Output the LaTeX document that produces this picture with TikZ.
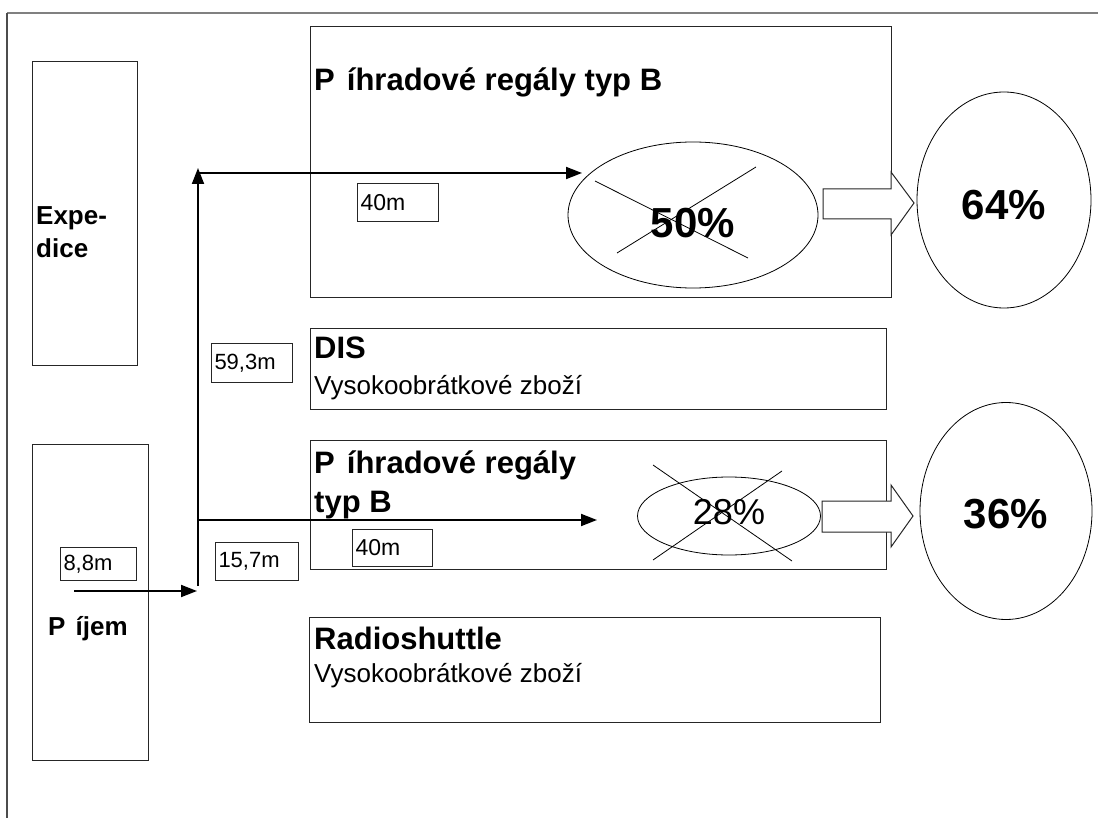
\documentclass[tikz,border=0pt]{standalone}
\usepackage{fontspec}
\setmainfont{Liberation Sans}
\usetikzlibrary{arrows.meta,shapes.geometric}
\begin{document}
\begin{tikzpicture}[x=1pt,y=-1pt,
  box/.style={draw=black!85,line width=1.2pt,rectangle,inner sep=0pt,anchor=north west},
  lbl/.style={draw=black!85,line width=1pt,rectangle,anchor=north west,inner ysep=0pt,inner xsep=3pt,align=left,font=\fontsize{22}{26}\selectfont},
  ell/.style={draw=black,ellipse,line width=0.8pt,inner sep=0pt},
  conn/.style={line width=1.8pt,-{Triangle[length=16pt,width=12pt]}},
  cross/.style={line width=0.8pt},
  big/.style={font=\fontsize{31}{38}\selectfont\bfseries,anchor=base west,inner sep=0pt},
  mid/.style={font=\fontsize{26}{33}\selectfont\bfseries,anchor=base west,inner sep=0pt},
  sub/.style={font=\fontsize{26}{33}\selectfont,anchor=base west,inner sep=0pt},
  pct/.style={font=\fontsize{42}{50}\selectfont\bfseries,inner sep=0pt},
  blk/.style={draw=black!85,line width=1pt,fill=white}]
\useasboundingbox (0,0) rectangle (1098,818);
% outer frame
\draw[gray,line width=1.5pt] (7,13) -- (1098,13);
\draw[black!70,line width=1.2pt] (7,13) -- (7,818);

% left boxes
\node[box,minimum width=105pt,minimum height=304pt] (exp) at (32,61) {};
\node[mid] (expt1) at (36,225) {Expe-};
\node[mid] (expt2) at (36,258) {dice};
\node[box,minimum width=116pt,minimum height=316pt] (pri) at (32,444) {};
\node[mid] (prit) at (48,635) {P\hspace{0.389em}íjem};

% top rack box
\node[box,minimum width=581pt,minimum height=271pt] (top) at (310,26) {};
\node[big] (topt) at (314,91) {P\hspace{0.389em}íhradové regály typ B};
\node[lbl,text width=75pt,minimum height=38pt,font=\fontsize{23}{27}\selectfont] (d40a) at (357,183) {40m};
\node[ell,minimum width=250pt,minimum height=146pt] (e1) at (693,215) {};
\draw[cross] (595,181) -- (748,258);
\draw[cross] (617,253) -- (756,167);
\node[pct] (p50) at (693,223) {50\%};
\draw[blk] (823,189) -- (891,189) -- (891,172) -- (914,203) -- (891,235) -- (891,219) -- (823,219) -- cycle;
\node[ell,minimum width=174pt,minimum height=216pt] (c64) at (1004,200) {};
\node[pct] (p64) at (1004,205) {64\%};

% DIS box
\node[box,minimum width=576pt,minimum height=81pt] (dis) at (310,328) {};
\node[big] (dist) at (314,359) {DIS};
\node[sub] (diss) at (314,395) {Vysokoobrátkové zboží};
\node[lbl,text width=75pt,minimum height=39pt] (d593) at (211,343) {59,3m};

% second rack box
\node[box,minimum width=576pt,minimum height=129pt] (mid) at (310,440) {};
\node[big] (midt1) at (314,473) {P\hspace{0.389em}íhradové regály};
\node[big] (midt2) at (314,512) {typ B};
\node[lbl,text width=74pt,minimum height=37pt,font=\fontsize{23}{27}\selectfont] (d40b) at (352,529) {40m};
\node[ell,minimum width=183pt,minimum height=78pt] (e2) at (729,516) {};
\draw[cross] (653,465) -- (792,561);
\draw[cross] (653,560) -- (782,471);
\node[font=\fontsize{36}{42}\selectfont,inner sep=0pt] (p28) at (729,512) {28\%};
\draw[blk] (822,501) -- (891,501) -- (891,485) -- (913,516) -- (891,547) -- (891,532) -- (822,532) -- cycle;
\node[ell,minimum width=172pt,minimum height=217pt] (c36) at (1006,511) {};
\node[pct] (p36) at (1006,514) {36\%};
\node[lbl,text width=77pt,minimum height=38pt] (d157) at (215,542) {15,7m};

% radioshuttle
\node[box,minimum width=571pt,minimum height=105pt] (rad) at (309,617) {};
\node[big] (radt) at (314,649) {Radioshuttle};
\node[sub] (rads) at (314,682) {Vysokoobrátkové zboží};

% 8,8m
\node[lbl,text width=70pt,minimum height=33pt] (d88) at (60,547) {8,8m};

% connectors
\coordinate (vb) at (198,586);
\coordinate (vt) at (198,168);
\coordinate (h1s) at (198,173);
\coordinate (h1e) at (582,173);
\coordinate (h2s) at (198,520);
\coordinate (h2e) at (597,520);
\coordinate (h3s) at (74,591);
\coordinate (h3e) at (197,591);
\draw[conn] (vb) -- (vt);
\draw[conn] (h1s) -- (h1e);
\draw[conn] (h2s) -- (h2e);
\draw[conn] (h3s) -- (h3e);
\end{tikzpicture}
\end{document}
